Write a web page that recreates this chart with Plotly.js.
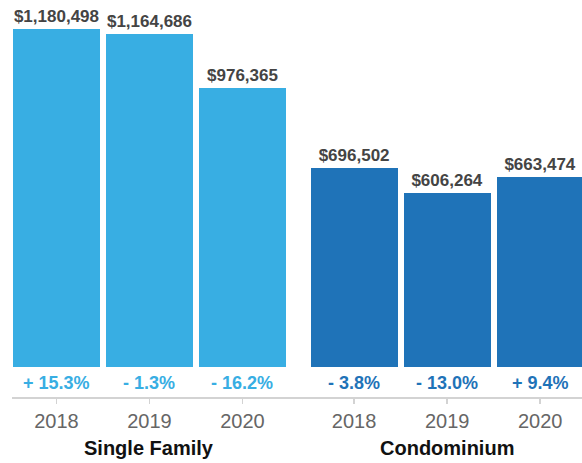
<!DOCTYPE html>
<html>
<head>
<meta charset="utf-8">
<script src="https://cdn.plot.ly/plotly-3.0.1.min.js"></script>
<style>html,body{margin:0;padding:0;background:#fff;}#chart{width:582px;height:463px;}</style>
</head>
<body>
<div id="chart"></div>
<script>
const years = ['2018', '2019', '2020'];
const groups = ['Single Family', 'Condominium'];
const singleFamily = [1180498, 1164686, 976365];
const condominium = [696502, 606264, 663474];
const singleFamilyChange = ['+ 15.3%', '- 1.3%', '- 16.2%'];
const condominiumChange = ['- 3.8%', '- 13.0%', '+ 9.4%'];

const lightBlue = '#38aee3';
const darkBlue = '#1f73b8';
const font = 'Liberation Sans, Arial, Helvetica, sans-serif';

const groupGap = 1.2;
const xs1 = years.map((_, i) => i);
const xs2 = years.map((_, i) => 2 + groupGap + i);
const fmt = v => '$' + v.toLocaleString('en-US');

const traces = [
  {type: 'bar', x: xs1, y: singleFamily, width: 0.935,
   marker: {color: lightBlue}, text: singleFamily.map(fmt),
   textposition: 'outside', cliponaxis: false,
   textfont: {family: font, size: 17, color: '#444', weight: 700},
   hoverinfo: 'none', showlegend: false},
  {type: 'bar', x: xs2, y: condominium, width: 0.935,
   marker: {color: darkBlue}, text: condominium.map(fmt),
   textposition: 'outside', cliponaxis: false,
   textfont: {family: font, size: 17, color: '#444', weight: 700},
   hoverinfo: 'none', showlegend: false}
];

const plotH = 397;
const annotations = [];
singleFamilyChange.forEach((t, i) => annotations.push({
  x: xs1[i], y: -57750, xref: 'x', yref: 'y', text: t, showarrow: false,
  font: {family: font, size: 18, color: lightBlue, weight: 700}, yanchor: 'middle'}));
condominiumChange.forEach((t, i) => annotations.push({
  x: xs2[i], y: -57750, xref: 'x', yref: 'y', text: t, showarrow: false,
  font: {family: font, size: 18, color: darkBlue, weight: 700}, yanchor: 'middle'}));
[xs1[1], xs2[1]].forEach((x, g) => annotations.push({
  x: x, y: -(448 - plotH) / plotH, xref: 'x', yref: 'paper', text: groups[g], showarrow: false,
  yanchor: 'middle', xanchor: 'center',
  font: {family: font, size: 20, color: '#111', weight: 700}}));

const layout = {
  width: 582, height: 463,
  margin: {l: 12, r: 0, t: 0, b: 463 - plotH},
  paper_bgcolor: '#fff', plot_bgcolor: '#fff',
  xaxis: {range: [-0.478, 5.65], tickvals: xs1.concat(xs2), ticktext: years.concat(years),
    showline: true, linecolor: '#d3d3d3', linewidth: 1.5,
    ticks: 'outside', ticklen: 5, tickcolor: '#d3d3d3', tickwidth: 1.5,
    showgrid: false, zeroline: false, fixedrange: true,
    tickfont: {family: font, size: 20, color: '#666'}},
  yaxis: {range: [-106750, 1282750], visible: false, showgrid: false, zeroline: false, fixedrange: true},
  annotations: annotations,
  bargap: 0
};

Plotly.newPlot('chart', traces, layout, {displayModeBar: false, staticPlot: true});
</script>
</body>
</html>
